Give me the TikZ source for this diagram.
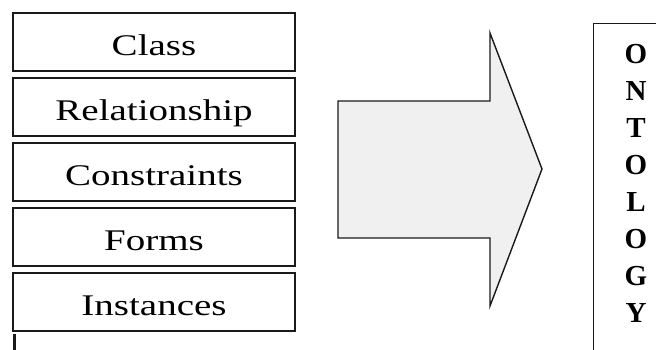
\documentclass[tikz,border=0pt]{standalone}
\usepackage{fontspec}
\setmainfont{Liberation Serif}
\newfontfamily\boxfont[FakeStretch=1.3]{Liberation Serif}
\usepackage{tikz}
\usetikzlibrary{positioning}
\definecolor{arrowfill}{HTML}{F0F0F0}
\definecolor{edgegray}{HTML}{1A1A1A}

\begin{document}
\begin{tikzpicture}[x=1pt, y=1pt, line width=1.4pt,
  itembox/.style={draw=edgegray, rectangle, fill=white, minimum width=282pt, minimum height=58pt, inner sep=0pt, outer sep=0pt, text height=27pt, text depth=0pt, font=\boxfont\fontsize{30}{36}\selectfont},
  bigarrow/.style={draw=edgegray, fill=arrowfill, line join=miter},
  letters/.style={align=center, inner sep=0pt, font=\bfseries\fontsize{29}{37}\selectfont}]
\useasboundingbox (0,0) rectangle (656,349);
\clip (0,0) rectangle (656,349);

% Concept boxes
\node[itembox] (class) at (154,307) {Class};
\node[itembox, below=7pt of class] (relation) {Relationship};
\node[itembox, below=7pt of relation] (constraint) {Constraints};
\node[itembox, below=7pt of constraint] (forms) {Forms};
\node[itembox, below=7pt of forms] (instance) {Instances};
\draw[edgegray, line width=3pt] ([xshift=1pt, yshift=-3pt]instance.south west) -- ++(0,-20);

% Block arrow
\coordinate (tail top) at (338,248);
\coordinate (tail bottom) at (338,111);
\coordinate (tip) at (542,180);
\draw[bigarrow] (tail top) -- (490,248) -- (490,316) -- (tip) -- (490,43) -- (490,111) -- (tail bottom) -- cycle;

% Result box
\node[draw=edgegray, rectangle, anchor=north west, minimum width=90pt, minimum height=360pt] (ontology) at (593,326) {};
\node[letters] (word) at (636,165.5) {O\\N\\T\\O\\L\\O\\G\\Y};
\end{tikzpicture}
\end{document}
